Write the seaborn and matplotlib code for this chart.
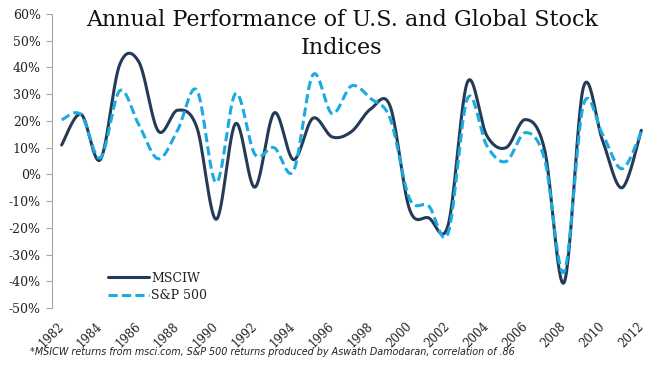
import numpy as np
import pandas as pd
import matplotlib
matplotlib.use("Agg")
import matplotlib.pyplot as plt
import seaborn as sns
from matplotlib.ticker import FuncFormatter

years = list(range(1982, 2013))
msciw = [11.0, 22.5, 5.5, 41.0, 42.0, 16.2, 24.0, 17.5, -16.8, 19.0, -4.8, 23.0, 5.5,
         21.0, 14.0, 16.0, 24.5, 25.5, -13.0, -16.3, -19.0, 34.5, 14.5, 10.0, 20.5,
         9.0, -40.5, 32.5, 12.5, -5.0, 16.5]
sp500 = [20.42, 22.34, 6.15, 31.24, 18.49, 5.81, 16.54, 31.48, -3.06, 30.23, 7.49, 9.97,
         1.33, 37.20, 22.68, 33.10, 28.34, 20.89, -9.03, -11.85, -21.97, 28.36, 10.74,
         4.83, 15.61, 5.48, -36.55, 25.94, 14.82, 2.10, 15.89]
series_names = ["MSCIW", "S&P 500"]
xtick_years = list(range(1982, 2013, 2))
yticks = list(range(-50, 61, 10))
title = "Annual Performance of U.S. and Global Stock\nIndices"
footnote = "*MSICW returns from msci.com, S&P 500 returns produced by Aswath Damodaran, correlation of .86"


def smooth(x, y, n=30):
    """Excel-like smoothed line (Catmull-Rom / cubic Bezier, tension 1/6)."""
    x = np.asarray(x, float)
    y = np.asarray(y, float)
    px = np.concatenate([[x[0]], x, [x[-1]]])
    py = np.concatenate([[y[0]], y, [y[-1]]])
    xs, ys = [], []
    t = np.linspace(0, 1, n, endpoint=False)
    for i in range(1, len(px) - 2):
        p0 = np.array([px[i], py[i]])
        p3 = np.array([px[i + 1], py[i + 1]])
        c1 = p0 + (np.array([px[i + 1], py[i + 1]]) - np.array([px[i - 1], py[i - 1]])) / 6
        c2 = p3 - (np.array([px[i + 2], py[i + 2]]) - np.array([px[i], py[i]])) / 6
        b = ((1 - t) ** 3)[:, None] * p0 + (3 * (1 - t) ** 2 * t)[:, None] * c1 \
            + (3 * (1 - t) * t ** 2)[:, None] * c2 + (t ** 3)[:, None] * p3
        xs.append(b[:, 0])
        ys.append(b[:, 1])
    xs.append([x[-1]])
    ys.append([y[-1]])
    return np.concatenate(xs), np.concatenate(ys)


frames = []
for name, vals in zip(series_names, [msciw, sp500]):
    sx, sy = smooth(years, vals)
    frames.append(pd.DataFrame({"Year": sx, "Return": sy, "Index": name}))
df = pd.concat(frames, ignore_index=True)

sns.set_style("white")
plt.rcParams["font.family"] = ["DejaVu Serif"]

fig = plt.figure(figsize=(6.48, 3.70), dpi=100)
W, H = 648, 370
ax = fig.add_axes([52 / W, 1 - 308 / H, (651 - 52) / W, (308 - 14) / H])

colors = {"MSCIW": "#243B57", "S&P 500": "#1BAAE1"}
sns.lineplot(data=df, x="Year", y="Return", hue="Index", style="Index",
             palette=colors, dashes={"MSCIW": "", "S&P 500": (3, 1.4)},
             sort=False, estimator=None, linewidth=2.2, ax=ax)

ax.set_xlim(1981.5, 2012.5)
ax.set_ylim(-50, 60)
ax.set_yticks(yticks)
ax.yaxis.set_major_formatter(FuncFormatter(lambda v, p: f"{int(v)}%"))
ax.set_xticks(xtick_years)
ax.set_xticklabels([str(y) for y in xtick_years], rotation=45, ha="right", va="center",
                   rotation_mode="anchor", fontsize=8.5, color="#222222")
ax.tick_params(axis="x", length=0, pad=12)
ax.tick_params(axis="y", length=4, width=0.8, color="#A6A6A6", labelsize=9,
               labelcolor="#222222", left=True, pad=4)
for s in ["top", "right", "bottom"]:
    ax.spines[s].set_visible(False)
ax.spines["left"].set_color("#A6A6A6")
ax.spines["left"].set_linewidth(0.8)
ax.set_xlabel("")
ax.set_ylabel("")

leg = ax.legend(loc="upper left", bbox_to_anchor=(100 / W, 1 - 264 / H),
                bbox_transform=fig.transFigure, frameon=False, fontsize=9,
                handlelength=3.3, handletextpad=0.2, labelspacing=0.35,
                borderpad=0.1)
for t in leg.get_texts():
    t.set_color("#222222")

fig.text(342 / W, 1 - 9 / H, title, ha="center", va="top", fontsize=16,
         linespacing=1.35, color="#111111")
fig.text(30 / W, 1 - 352 / H, footnote, ha="left", va="center", fontsize=6.9,
         style="italic", family=["Liberation Sans Narrow", "DejaVu Sans"], color="#222222")

fig.savefig("out.png", dpi=100)
